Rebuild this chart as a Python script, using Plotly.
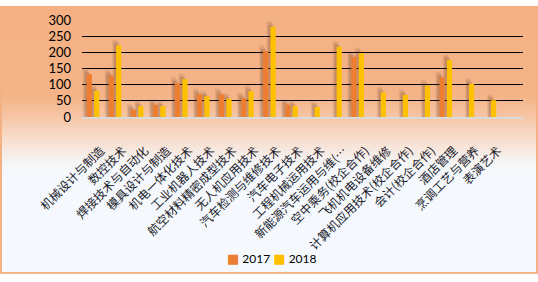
import base64
import plotly.graph_objects as go

categories = [
    "机械设计与制造", "数控技术", "焊接技术与自动化", "模具设计与制造", "机电一体化技术",
    "工业机器人技术", "航空材料精密成型技术", "无人机应用技术", "汽车检测与维修技术", "汽车电子技术",
    "工程机械运用技术", "新能源汽车运用与维(…", "空中乘务(校企合作)", "飞机机电设备维修",
    "计算机应用技术(校企合作)", "会计(校企合作)", "酒店管理", "烹调工艺与营养", "表演艺术",
]
values_2017 = [133, 128, 23, 38, 105, 70, 70, 58, 204, 38, None, None, 186, None, None, None, 123, None, None]
values_2018 = [81, 221, 34, 34, 117, 64, 56, 80, 279, 34, 31, 217, 197, 76, 68, 97, 176, 102, 52]
y_ticks = [0, 50, 100, 150, 200, 250, 300]

W, H = 538, 282
L, R, T, B = 82, 15, 15, 165
pw, ph = W - L - R, H - T - B
cat_px = pw / 20.0
unit_px = ph / 300.0

svg = f'''<svg xmlns="http://www.w3.org/2000/svg" width="{W}" height="{H}" viewBox="0 0 {W} {H}" preserveAspectRatio="none">
<defs><linearGradient id="g" x1="0" y1="0" x2="0" y2="1">
<stop offset="0" stop-color="#F4B183"/>
<stop offset="0.34" stop-color="#F4B488"/>
<stop offset="0.42" stop-color="#F6C7A8"/>
<stop offset="0.50" stop-color="#F8DECD"/>
<stop offset="0.585" stop-color="#F5F5F6"/>
<stop offset="0.62" stop-color="#F5F9FD"/>
<stop offset="1" stop-color="#F5F9FD"/>
</linearGradient></defs>
<rect x="0" y="0" width="{W}" height="{H}" fill="url(#g)"/>
<rect x="1" y="1" width="{W-2}" height="{H-2}" fill="none" stroke="#F4B183" stroke-width="2"/>
</svg>'''
src = "data:image/svg+xml;base64," + base64.b64encode(svg.encode("utf-8")).decode()

series = [("2017", values_2017, "#ED7D31", -0.285), ("2018", values_2018, "#FFC000", 0.05)]
bar_w = 0.235

fig = go.Figure()
# soft shadow layers (approximate blurred drop shadow)
for dx, dy, a in [(4.0, 6.0, 0.10), (3.0, 4.0, 0.12), (2.0, 2.0, 0.14)]:
    for name, vals, col, off in series:
        sh = [None if v is None else v + dy / unit_px for v in vals]
        fig.add_trace(go.Bar(x=categories, y=sh, width=bar_w, offset=off - dx / cat_px,
                             marker=dict(color=f"rgba(100,60,30,{a})", line=dict(width=0)),
                             showlegend=False, hoverinfo="skip"))
for name, vals, col, off in series:
    fig.add_trace(go.Bar(name=name, x=categories, y=vals, marker=dict(color=col, line=dict(width=0)),
                         width=bar_w, offset=off, showlegend=False))

# compact legend, built from the series names and colours
legend_text = " ".join(
    f'<span style="color:{col};font-size:13px;font-family:DejaVu Sans">■</span> {name}'
    for name, _, col, _ in series)

fig.update_layout(
    width=W, height=H,
    margin=dict(l=L, r=R, t=T, b=B, pad=0),
    paper_bgcolor="white",
    plot_bgcolor="rgba(0,0,0,0)",
    barmode="overlay",
    showlegend=False,
    annotations=[dict(text=legend_text, xref="paper", yref="paper",
                      x=(272 - L) / pw, y=(H - 266 - B) / ph, xanchor="center", yanchor="middle",
                      showarrow=False,
                      font=dict(family="Lato, Liberation Sans, sans-serif", size=12, color="#000"))],
    images=[dict(source=src, xref="paper", yref="paper", x=-L / pw, y=1 + T / ph,
                 sizex=W / pw, sizey=H / ph, xanchor="left", yanchor="top",
                 sizing="stretch", layer="below")],
    xaxis=dict(range=[-0.5, 19.5], tickangle=-45, showgrid=False, showline=True,
               linecolor="#D9D9D9", linewidth=2, ticks="", zeroline=False,
               ticklabelstandoff=20, ticklabelshift=8,
               tickfont=dict(family="Noto Sans CJK SC", size=12, color="#1a1a2a")),
    yaxis=dict(range=[0, 300], tickvals=y_ticks, showgrid=True, gridcolor="#000000",
               gridwidth=1, zeroline=False, showline=False, ticks="", ticklabelstandoff=10,
               tickfont=dict(family="Lato, Liberation Sans, sans-serif", size=13, color="#000")),
    font=dict(family="Lato, Liberation Sans, sans-serif"),
)

fig.write_html("out.html")
